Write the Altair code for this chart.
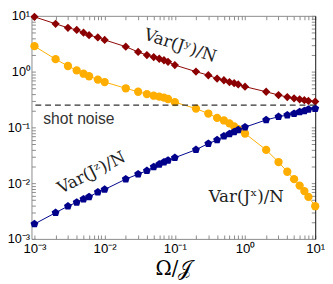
import altair as alt
import pandas as pd

# ---- data ----
omega = [0.001, 0.002, 0.003, 0.004, 0.005, 0.006, 0.008,
         0.01, 0.02, 0.03, 0.04, 0.05, 0.06, 0.07, 0.08,
         0.1, 0.2, 0.3, 0.4, 0.5, 0.6, 0.7, 0.8,
         1, 2, 3, 4, 5, 6, 7, 8,
         10]

var_jy = [9.6, 7.2, 6.1, 5.6, 5.0, 4.5, 4.1,
          3.7, 2.8, 2.25, 1.98, 1.82, 1.7, 1.6, 1.5,
          1.31, 1.0, 0.86, 0.75, 0.70, 0.65, 0.62, 0.59,
          0.537, 0.435, 0.38, 0.35, 0.332, 0.319, 0.307, 0.298,
          0.29]

var_jx = [2.86, 1.67, 1.26, 1.05, 0.917, 0.826, 0.72,
          0.65, 0.502, 0.435, 0.395, 0.37, 0.356, 0.342, 0.323,
          0.283, 0.217, 0.177, 0.148, 0.133, 0.118, 0.104, 0.093,
          0.0776, 0.0394, 0.0239, 0.016, 0.0118, 0.00905, 0.0072, 0.00566,
          0.00386]

var_jz = [0.00185, 0.00295, 0.00386, 0.00453, 0.00517, 0.00567, 0.0069,
          0.0077, 0.0118, 0.0145, 0.0167, 0.0196, 0.0218, 0.0239, 0.0256,
          0.0286, 0.0398, 0.0513, 0.0594, 0.0697, 0.0765, 0.083, 0.0905,
          0.101, 0.136, 0.155, 0.166, 0.177, 0.19, 0.198, 0.211,
          0.217]

series_names = ["Jy", "Jx", "Jz"]
series_colors = ["#8b0000", "#ffae00", "#00008b"]
PENTAGON = "M0,-1L0.951,-0.309L0.588,0.809L-0.588,0.809L-0.951,-0.309Z"
series_shapes = ["diamond", "circle", PENTAGON]

shot_noise = 0.25
shot_label = ["shot noise"]
shot_label_x = [0.0043]
shot_label_y = [0.1435]

label_text = ["Var(Jʸ)/N", "Var(Jᶻ)/N", "Var(Jˣ)/N"]
label_x = [0.119, 0.00652, 1.04]
label_y = [2.89, 0.0152, 0.0056]
label_angle = [18, 333, 0]

tick_labels = ["10⁻³", "10⁻²", "10⁻¹", "10⁰", "10¹"]
x_title = "Ω/𝒥"

# ---- tables ----
rows = []
for name, vals in zip(series_names, [var_jy, var_jx, var_jz]):
    for o, v in zip(omega, vals):
        rows.append({"omega": o, "var": v, "series": name})
df = pd.DataFrame(rows)
labels_df = pd.DataFrame({"x": label_x, "y": label_y, "t": label_text, "a": label_angle})
shot_df = pd.DataFrame({"x": shot_label_x, "y": shot_label_y, "t": shot_label})

tick_vals = []
for k in range(-3, 1):
    for m in range(1, 10):
        tick_vals.append(m * 10.0 ** k)
tick_vals.append(10.0)

label_expr = ("abs(log(datum.value)/LN10 - round(log(datum.value)/LN10)) < 1e-6 ? "
              + str(tick_labels) + "[round(log(datum.value)/LN10) + 3] : ''")

xscale = alt.Scale(type="log", domain=[9.07e-4, 10], nice=False)
yscale = alt.Scale(type="log", domain=[1e-3, 10], nice=False)
GRAY = "#8a8a8a"

common = dict(values=tick_vals, grid=False, tickSize={"expr": "-4"},
              tickColor=GRAY, labelOverlap=False)

x_bottom = alt.Axis(orient="bottom", labelExpr=label_expr, labelPadding=7,
                    domainColor=GRAY, labelFont="Liberation Sans", labelFontSize=13.5,
                    labelColor="black", labelFlush=False,
                    title=x_title, titleFont="DejaVu Serif", titleFontSize=20,
                    titleFontWeight="normal", titleColor="black", titlePadding=4, **common)
y_left = alt.Axis(orient="left", labelExpr=label_expr, labelPadding=6,
                  domainColor=GRAY, labelFont="Liberation Sans", labelFontSize=13,
                  labelColor="black", labelFlush=False, title=None, **common)
x_top = alt.Axis(orient="top", labels=False, domainColor=GRAY, title=None, **common)
y_right = alt.Axis(orient="right", labels=False, domainColor="#111111", title=None, **common)

color = alt.Color("series:N", scale=alt.Scale(domain=series_names, range=series_colors), legend=None)
shape = alt.Shape("series:N", scale=alt.Scale(domain=series_names, range=series_shapes), legend=None)

lines = alt.Chart(df).mark_line(strokeWidth=1, clip=True).encode(
    x=alt.X("omega:Q", scale=xscale, axis=x_bottom),
    y=alt.Y("var:Q", scale=yscale, axis=y_left),
    color=color,
    detail="series:N",
)

points = alt.Chart(df).mark_point(filled=True, size=72, opacity=1, strokeWidth=0).encode(
    x=alt.X("omega:Q", scale=xscale, axis=x_top),
    y=alt.Y("var:Q", scale=yscale, axis=y_right),
    color=color,
    shape=shape,
)

rule = alt.Chart(pd.DataFrame({"y": [shot_noise]})).mark_rule(
    color="#333333", strokeWidth=1.4, strokeDash=[6, 4]
).encode(y=alt.Y("y:Q", scale=yscale, axis=None))

var_text = alt.Chart(labels_df).mark_text(
    font="DejaVu Serif", fontSize=17, color="#222222"
).encode(
    x=alt.X("x:Q", scale=xscale, axis=None),
    y=alt.Y("y:Q", scale=yscale, axis=None),
    text="t:N",
    angle=alt.Angle("a:Q", scale=None),
)

shot_text = alt.Chart(shot_df).mark_text(
    font="Liberation Sans", fontSize=16, color="#333333"
).encode(
    x=alt.X("x:Q", scale=xscale, axis=None),
    y=alt.Y("y:Q", scale=yscale, axis=None),
    text="t:N",
)

chart = alt.layer(lines, points, rule, var_text, shot_text).resolve_axis(
    x="independent", y="independent"
).properties(
    width=290, height=228,
    autosize=alt.AutoSizeParams(type="none"),
    padding={"left": 24, "top": 5, "right": 10, "bottom": 40},
).configure_view(stroke=None)

chart.save("out.html", embed_options={"renderer": "svg", "actions": False})
